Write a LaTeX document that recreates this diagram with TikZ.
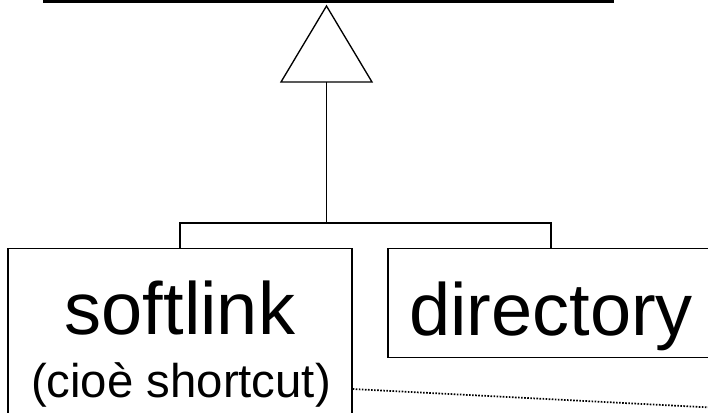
\documentclass[tikz,border=0pt]{standalone}
\usepackage{fontspec}
\setmainfont{Liberation Sans}
\begin{document}
\begin{tikzpicture}[x=0.75pt,y=-0.75pt,
    classbox/.style={draw, line width=1pt, inner sep=0pt, anchor=north},
    bigname/.style={font=\fontsize{55.5}{60}\selectfont, anchor=base, inner sep=0pt},
    smallname/.style={font=\fontsize{35.5}{40}\selectfont, anchor=base, inner sep=0pt},
    wire/.style={line width=1pt},
    linkdots/.style={line width=1.3pt, dash pattern=on 1.2pt off 1.1pt}]
        \useasboundingbox (0,0) rectangle (708,412);
        \clip (0,0) rectangle (708,412);
        % superclass edge and inheritance triangle
        \coordinate (superL) at (43,1);
        \coordinate (superR) at (614,1);
        \draw[line width=2.4pt] (superL)--(superR);
        \coordinate (tip) at (326.5,6);
        \coordinate (baseL) at (281,82);
        \coordinate (baseR) at (372,82);
        \draw[wire, line join=miter] (tip)--(baseL)--(baseR)--cycle;
        \coordinate (stem) at (326.5,82);
        \coordinate (fork) at (326.5,223);
        % subclasses
        \node[classbox, minimum width=258pt, minimum height=150pt] (softlink) at (180,248) {};
        \node[classbox, minimum width=244.5pt, minimum height=81.75pt] (directory) at (551,248) {};
        \node[bigname] (softname) at (180,334) {softlink};
        \node[smallname] (softnote) at (181,397) {(cioè shortcut)};
        \node[bigname] (dirname) at (551,335) {directory};
        \draw[wire] (stem)--(fork);
        \draw[wire] (softlink.north) |- (fork) -| (directory.north);
        % link to the target, off the page
        \coordinate (offpage) at (740,409);
        \draw[linkdots] ([yshift=-105.75pt]softlink.north east)--(offpage);
\end{tikzpicture}
\end{document}
